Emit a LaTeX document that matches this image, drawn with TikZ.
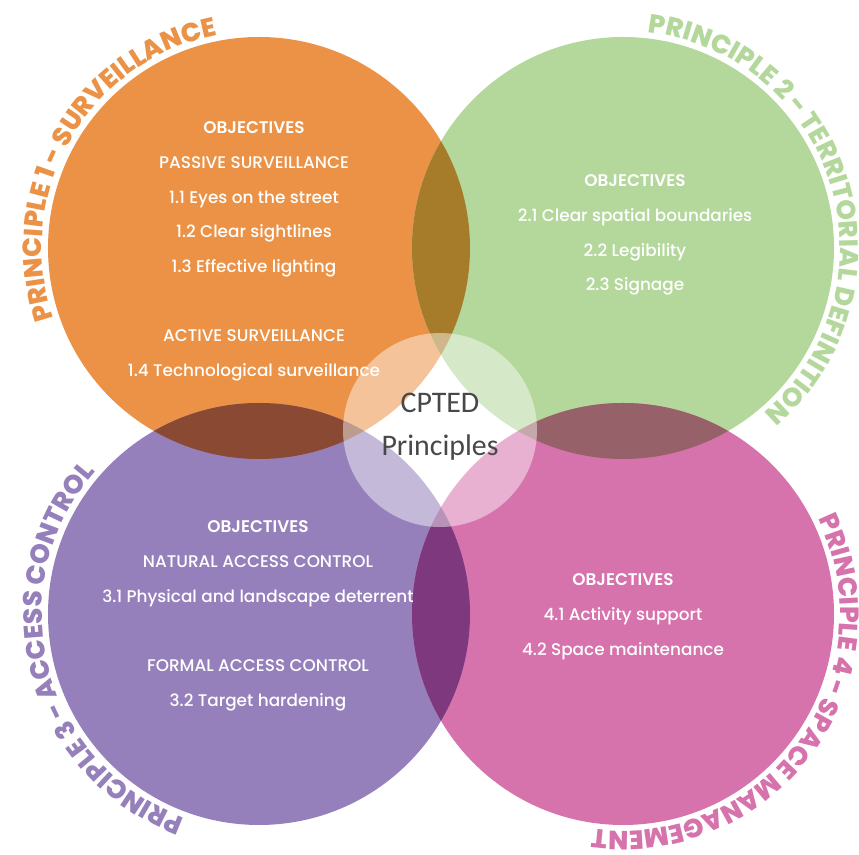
\documentclass[tikz,border=0pt]{standalone}
\usepackage{fontspec}
\setmainfont{Poppins}[UprightFont={* Medium},BoldFont={* SemiBold}]
\newfontfamily\labelfont{Poppins}[UprightFont={* ExtraBold}]
\newfontfamily\centerfont{Carlito}
\usetikzlibrary{positioning,decorations.text}
\definecolor{survC}{RGB}{235,146,70}
\definecolor{terrC}{RGB}{180,216,156}
\definecolor{accC}{RGB}{150,128,187}
\definecolor{spaceC}{RGB}{214,114,172}
\definecolor{survterr}{RGB}{166,124,43}
\definecolor{survacc}{RGB}{138,73,51}
\definecolor{terrspace}{RGB}{151,97,105}
\definecolor{accspace}{RGB}{126,57,126}
\definecolor{centergray}{RGB}{72,72,72}

\begin{document}
\begin{tikzpicture}[x=0.02cm, y=0.02cm,
    objectives/.style={anchor=north, inner sep=0pt, align=center, text=white,
        font=\fontsize{9.6}{19.75}\selectfont},
    principle/.style 2 args={decorate, decoration={text along path, text align=center,
        text={|\labelfont\fontsize{15}{18}\selectfont\color{#1}|#2}}}
    ]
    \useasboundingbox (0,0) rectangle (859,855);

    \coordinate (surv) at (259,607);
    \coordinate (terr) at (623,607);
    \coordinate (acc) at (259,241);
    \coordinate (space) at (623,241);

    \foreach \c/\col in {surv/survC, terr/terrC, acc/accC, space/spaceC}
        \fill[\col] (\c) circle[radius=211];

    \begin{scope}
        \clip (surv) circle[radius=211];
        \fill[survterr] (terr) circle[radius=211];
        \fill[survacc] (acc) circle[radius=211];
    \end{scope}
    \begin{scope}
        \clip (space) circle[radius=211];
        \fill[terrspace] (terr) circle[radius=211];
        \fill[accspace] (acc) circle[radius=211];
    \end{scope}

    \fill[white, opacity=0.45] (440,425) circle[radius=97];
    \node[align=center, text=centergray, font=\centerfont\fontsize{17}{24.5}\selectfont]
        (cpted) at (440,428) {CPTED\\Principles};

    \node[objectives] (obj1) at (254,733.5) {\textbf{OBJECTIVES}\\PASSIVE SURVEILLANCE\\
        1.1 Eyes on the street\\1.2 Clear sightlines\\1.3 Effective lighting\\[19.75pt]
        ACTIVE SURVEILLANCE\\1.4 Technological surveillance};
    \node[objectives] (obj2) at (635,680.5) {\textbf{OBJECTIVES}\\2.1 Clear spatial boundaries\\
        2.2 Legibility\\2.3 Signage};
    \node[objectives] (obj3) at (258,334.5) {\textbf{OBJECTIVES}\\NATURAL ACCESS CONTROL\\
        3.1 Physical and landscape deterrent\\[19.75pt]
        FORMAL ACCESS CONTROL\\3.2 Target hardening};
    \node[objectives] (obj4) at (623,281.5) {\textbf{OBJECTIVES}\\4.1 Activity support\\
        4.2 Space maintenance};

    \path[principle={survC}{PRINCIPLE 1 - SURVEILLANCE}]
        (surv) ++(230:217) arc[start angle=230, end angle=70, radius=217];
    \path[principle={terrC}{PRINCIPLE 2 - TERRITORIAL DEFINITION}]
        (terr) ++(106:217) arc[start angle=106, end angle=-72, radius=217];
    \path[principle={accC}{PRINCIPLE 3 - ACCESS CONTROL}]
        (acc) ++(275:217) arc[start angle=275, end angle=114, radius=217];
    \path[principle={spaceC}{PRINCIPLE 4 - SPACE MANAGEMENT}]
        (space) ++(45:217) arc[start angle=45, end angle=-117, radius=217];
\end{tikzpicture}
\end{document}
